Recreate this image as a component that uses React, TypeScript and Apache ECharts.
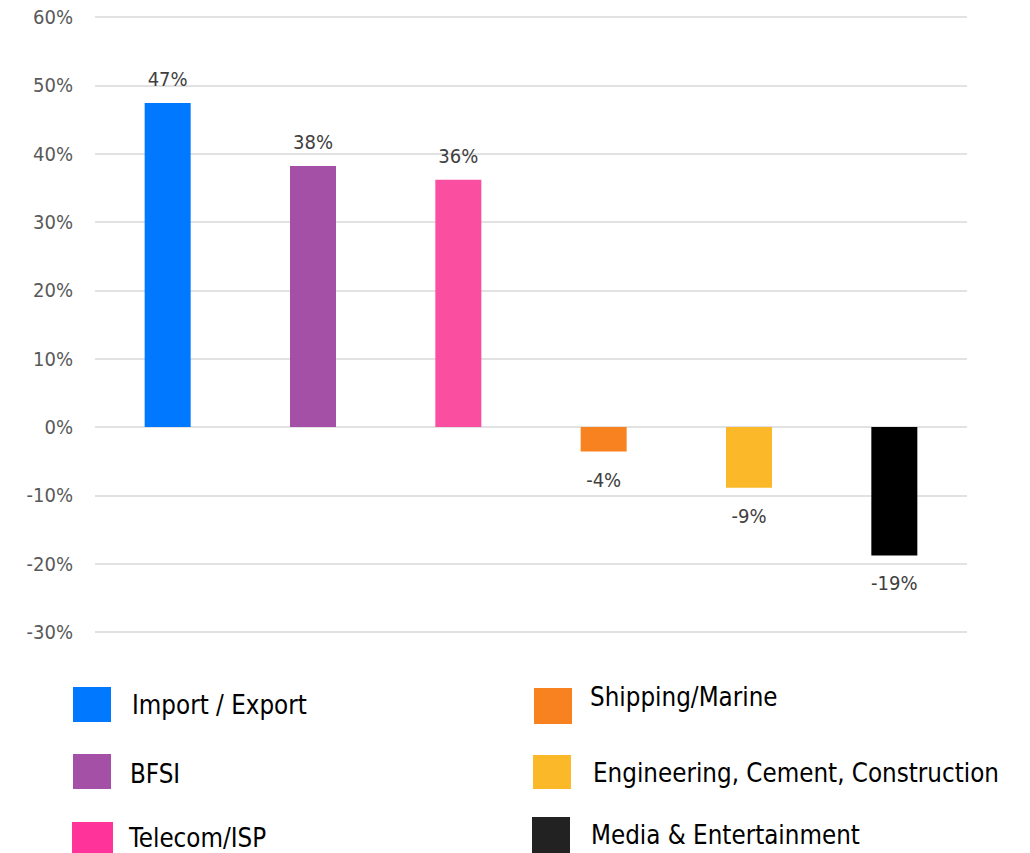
import React, { useEffect, useRef } from "react";
import * as echarts from "echarts";

const categories = [
  "Import / Export",
  "BFSI",
  "Telecom/ISP",
  "Shipping/Marine",
  "Engineering, Cement, Construction",
  "Media & Entertainment",
];
const values = [47.4, 38.2, 36.2, -3.6, -8.9, -18.8];
const barColors = ["#0078FF", "#A450A6", "#FA4FA0", "#F7821F", "#FBB829", "#000000"];
const legendColors = ["#0078FF", "#A450A6", "#FF3399", "#F7821F", "#FBB829", "#222222"];
const yTicks = { min: -30, max: 60, interval: 10 };

// legend layout (positions only)
const legendPos = [
  { sx: 73, sy: 687, sw: 38, sh: 35, tx: 132, ty: 705 },
  { sx: 73, sy: 754, sw: 38, sh: 35, tx: 130, ty: 774 },
  { sx: 72, sy: 822, sw: 41, sh: 35, tx: 129, ty: 838 },
  { sx: 534, sy: 688, sw: 38, sh: 36, tx: 590, ty: 697 },
  { sx: 533, sy: 755, sw: 38, sh: 34, tx: 593, ty: 773 },
  { sx: 532, sy: 817, sw: 38, sh: 36, tx: 591, ty: 835 },
];

export default function App() {
  const ref = useRef<HTMLDivElement>(null);
  useEffect(() => {
    if (!ref.current) return;
    const chart = echarts.init(ref.current, undefined, { renderer: "svg" });
    const font = "'DejaVu Sans Condensed', 'DejaVu Sans', Tahoma, sans-serif";
    const graphics: any[] = [];
    categories.forEach((c, i) => {
      const p = legendPos[i];
      graphics.push({
        type: "rect",
        shape: { x: p.sx, y: p.sy, width: p.sw, height: p.sh },
        style: { fill: legendColors[i] },
      });
      graphics.push({
        type: "text",
        x: p.tx,
        y: p.ty,
        style: {
          text: c,
          fill: "#000000",
          font: `25.7px ${font}`,
          verticalAlign: "middle",
          align: "left",
        },
      });
    });
    chart.setOption({
      animation: false,
      backgroundColor: "#ffffff",
      grid: { left: 95, right: 63, top: 17, bottom: 221, containLabel: false },
      xAxis: {
        type: "category",
        data: categories,
        axisLine: { show: false },
        axisTick: { show: false },
        axisLabel: { show: false },
      },
      yAxis: {
        type: "value",
        min: yTicks.min,
        max: yTicks.max,
        interval: yTicks.interval,
        axisLine: { show: false },
        axisTick: { show: false },
        axisLabel: {
          formatter: (v: number) => `${v}%`,
          color: "#595959",
          fontSize: 20,
          fontFamily: font,
          margin: 22,
        },
        splitLine: { lineStyle: { color: "#d9d9d9", width: 1.5 } },
      },
      series: [
        {
          type: "bar",
          barWidth: 46,
          data: values.map((v, i) => ({
            value: v,
            itemStyle: { color: barColors[i] },
            label: {
              show: true,
              position: v >= 0 ? "top" : "bottom",
              distance: v >= 0 ? 14 : 18,
              formatter: `${Math.round(v)}%`,
              color: "#404040",
              fontSize: 20,
              fontFamily: font,
            },
          })),
        },
      ],
      graphic: graphics,
    });
    return () => chart.dispose();
  }, []);
  return <div ref={ref} style={{ width: 1030, height: 853, position: "absolute", left: 0, top: 0 }} />;
}
